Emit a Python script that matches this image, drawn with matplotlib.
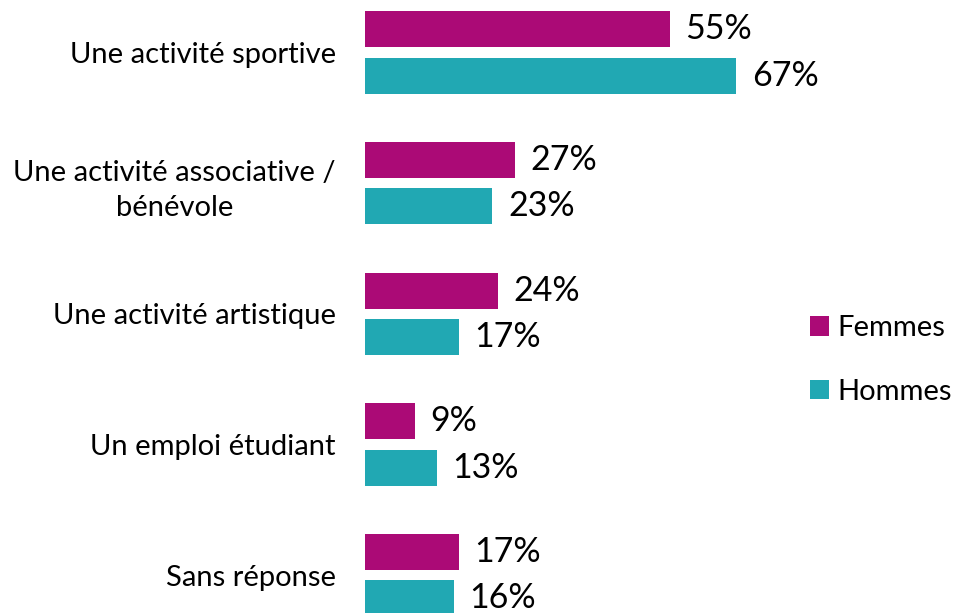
import matplotlib.pyplot as plt
import numpy as np

plt.rcParams['font.family'] = ['Lato', 'DejaVu Sans']

# donnees
categories = ['Une activité sportive', 'Une activité associative /\nbénévole',
              'Une activité artistique', 'Un emploi étudiant', 'Sans réponse']
femmes = [55, 27, 24, 9, 17]
hommes = [67, 23, 17, 13, 16]
series_names = ['Femmes', 'Hommes']
colors = ['#AB0A76', '#21A8B3']

W, H = 957, 613
fig = plt.figure(figsize=(W / 100, H / 100), dpi=100)
ax = fig.add_axes([365 / W, 0, 1 - 365 / W, 1])

y = np.arange(len(categories))
off = 0.178
h = 0.275
b1 = ax.barh(y - off, femmes, height=h, color=colors[0], label=series_names[0])
b2 = ax.barh(y + off, hommes, height=h, color=colors[1], label=series_names[1])

for bars, vals in [(b1, femmes), (b2, hommes)]:
    for bar, v in zip(bars, vals):
        ax.text(bar.get_width() + 2.8, bar.get_y() + bar.get_height() / 2, f'{v}%',
                va='center', ha='left', fontsize=24.5, color='black')

ax.set_xlim(0, (W - 365) / 5.54)
ax.set_ylim(4.29, -0.402)
ax.set_yticks(y)
ax.set_yticklabels(categories, fontsize=21, multialignment='center', linespacing=1.45)
ax.tick_params(axis='y', length=0, pad=21)
ax.set_xticks([])
for s in ax.spines.values():
    s.set_visible(False)

fig.legend(loc='center left', bbox_to_anchor=(810 / W, 1 - 360 / H), frameon=False,
           fontsize=21, handlelength=0.65, handleheight=0.65, handletextpad=0.3,
           labelspacing=1.28, borderpad=0, borderaxespad=0)

fig.savefig('out.png', dpi=100)
